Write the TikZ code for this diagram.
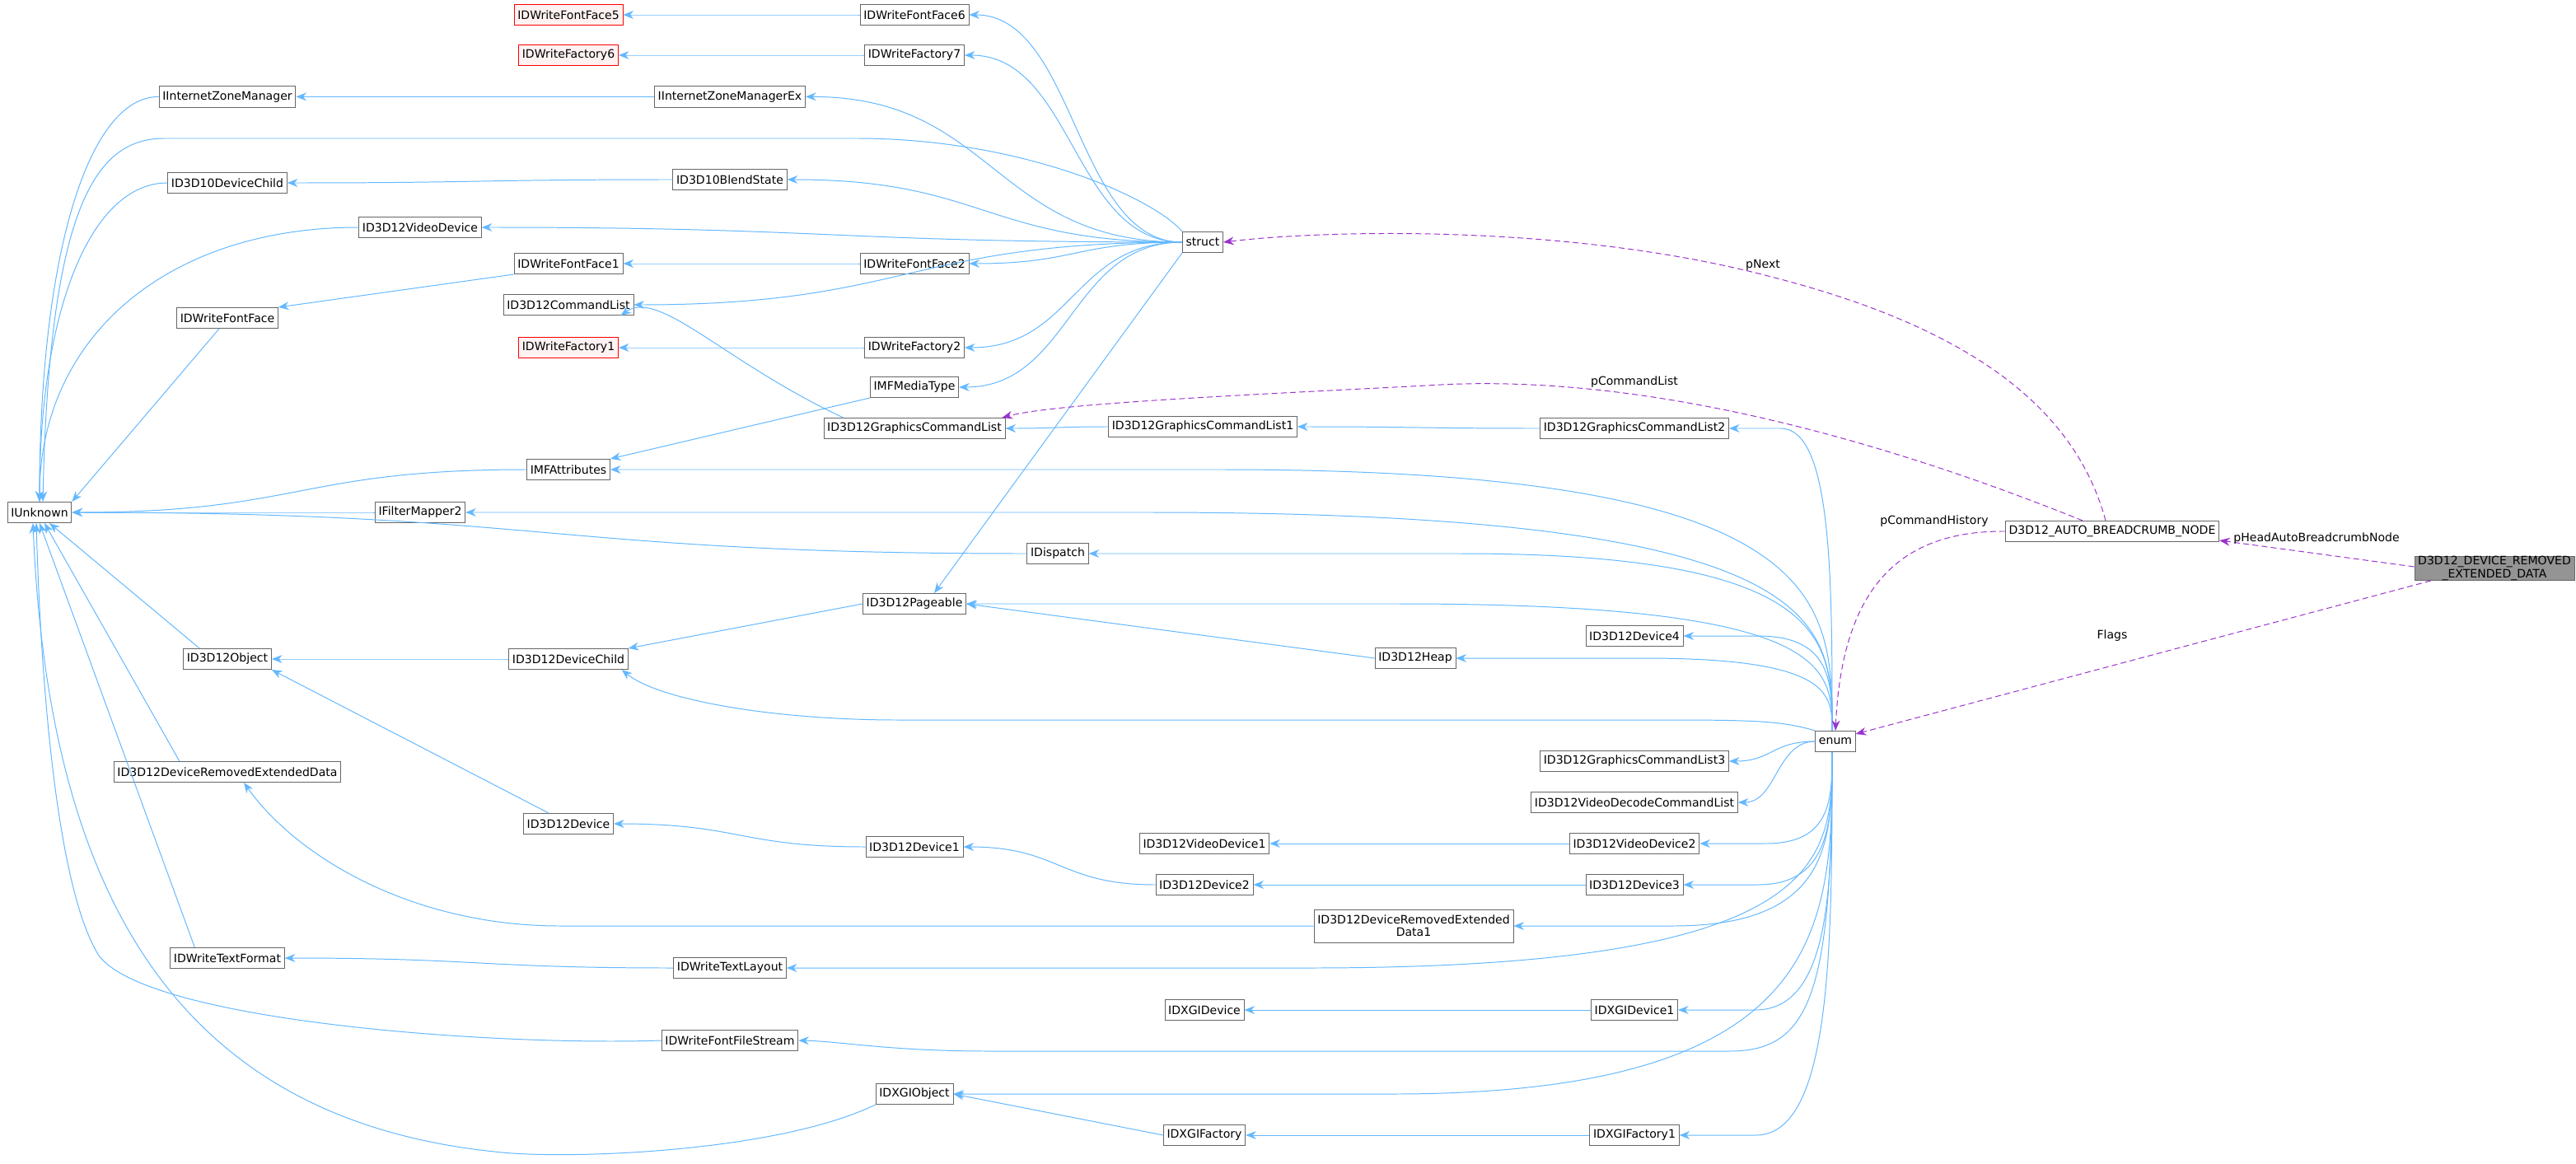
\documentclass[tikz,border=0pt]{standalone}
\usepackage{fontspec}
\setmainfont{DejaVu Sans}
\usetikzlibrary{arrows.meta,calc}
\definecolor{eb}{HTML}{63B8FF}
\definecolor{ep}{HTML}{9A32CD}
\newcommand\hedge[3]{\coordinate (mm) at ($(#2)!0.5!(#3)$);\draw[#1] (#2) .. controls (mm |- #2) and (mm |- #3) .. (#3);}
\newcommand\vedge[3]{\coordinate (mm) at ($(#2)!0.5!(#3)$);\draw[#1] (#2) .. controls (#2 |- mm) and (#2 |- #3) .. (mm |- #3) -- (#3);}
\newcommand\uedge[3]{\draw[#1] (#2) .. controls ($(#2)!0.6!(#3 |- #2)$) and ($(#3)!0.6!(#3 |- #2)$) .. (#3);}
\begin{document}
\begin{tikzpicture}[x=0.05cm,y=-0.05cm,
 n/.style={draw=black!60,fill=white,font=\fontsize{10}{12}\selectfont,inner xsep=3pt,inner ysep=0pt,minimum height=0.63cm,line width=0.6pt},
 r/.style={n,draw=red,fill=red!5},
 g/.style={n,fill=black!42,align=center,font=\fontsize{10}{11}\selectfont},
 ml/.style={n,align=center,font=\fontsize{10}{11}\selectfont},
 inh/.style={draw=eb,line width=0.7pt,-{Stealth[length=9pt,width=7pt]}},
 use/.style={draw=ep,line width=0.7pt,dash pattern=on 5pt off 3pt,-{Stealth[length=9pt,width=7pt]}},
 lb/.style={font=\fontsize{10}{12}\selectfont}]
\useasboundingbox[fill=white] (0,0) rectangle (1563.5,706.5);
\node[r] (ff5) at (345,9) {IDWriteFontFace5};
\node[n] (ff6) at (555,9) {IDWriteFontFace6};
\node[r] (fa6) at (345,33.5) {IDWriteFactory6};
\node[n] (fa7) at (555,33.5) {IDWriteFactory7};
\node[n] (izm) at (138,58.7) {IInternetZoneManager};
\node[n] (izmx) at (443,58.7) {IInternetZoneManagerEx};
\node[n] (d10c) at (138,111) {ID3D10DeviceChild};
\node[n] (d10b) at (443,109) {ID3D10BlendState};
\node[n] (vd) at (255,138) {ID3D12VideoDevice};
\node[n] (struct) at (730,147) {struct};
\node[n] (ff1) at (345,160) {IDWriteFontFace1};
\node[n] (ff2) at (555,160) {IDWriteFontFace2};
\node[n] (ff) at (138,193) {IDWriteFontFace};
\node[n] (cl) at (345,185) {ID3D12CommandList};
\node[r] (fa1) at (345,211) {IDWriteFactory1};
\node[n] (fa2) at (555,211) {IDWriteFactory2};
\node[n] (mft) at (555,235) {IMFMediaType};
\node[n] (gcl) at (555,260) {ID3D12GraphicsCommandList};
\node[n] (gcl1) at (730,259) {ID3D12GraphicsCommandList1};
\node[n] (gcl2) at (992,260) {ID3D12GraphicsCommandList2};
\node[n] (mfa) at (345,285) {IMFAttributes};
\node[n] (iu) at (24,311) {IUnknown};
\node[n] (fm2) at (255,311) {IFilterMapper2};
\node[n] (abn) at (1282,322.5) {D3D12\_AUTO\_BREADCRUMB\_NODE};
\node[g] (dred) at (1514,345) {D3D12\_DEVICE\_REMOVED\\\_EXTENDED\_DATA};
\node[n] (disp) at (642,336) {IDispatch};
\node[n] (pg) at (555,366.5) {ID3D12Pageable};
\node[n] (obj) at (138,400) {ID3D12Object};
\node[n] (dc) at (345,400) {ID3D12DeviceChild};
\node[n] (d4) at (992,386) {ID3D12Device4};
\node[n] (heap) at (859,399.5) {ID3D12Heap};
\node[n] (enum) at (1114,450) {enum};
\node[n] (dre) at (138,468.5) {ID3D12DeviceRemovedExtendedData};
\node[n] (gcl3) at (992,462) {ID3D12GraphicsCommandList3};
\node[n] (vdcl) at (992,487) {ID3D12VideoDecodeCommandList};
\node[n] (dev) at (345,500) {ID3D12Device};
\node[n] (vd1) at (731,512) {ID3D12VideoDevice1};
\node[n] (vd2) at (992,512) {ID3D12VideoDevice2};
\node[n] (d1) at (555,514) {ID3D12Device1};
\node[n] (d2) at (731,537) {ID3D12Device2};
\node[n] (d3) at (992,537) {ID3D12Device3};
\node[ml,minimum height=1.0cm] (dre1) at (858,562) {ID3D12DeviceRemovedExtended\\Data1};
\node[n] (tf) at (138,581.5) {IDWriteTextFormat};
\node[n] (tl) at (443,587.5) {IDWriteTextLayout};
\node[n] (dxd) at (731,613) {IDXGIDevice};
\node[n] (dxd1) at (992,613) {IDXGIDevice1};
\node[n] (ffs) at (443,631.5) {IDWriteFontFileStream};
\node[n] (dxo) at (555,664) {IDXGIObject};
\node[n] (dxf) at (731,689) {IDXGIFactory};
\node[n] (dxf1) at (992,689) {IDXGIFactory1};
% inheritance, straight chains
\foreach \a/\b in {ff6/ff5,fa7/fa6,izmx/izm,d10b/d10c,ff2/ff1,fa2/fa1,gcl1/gcl,gcl2/gcl1,dc/obj,d1/dev,d2/d1,d3/d2,vd2/vd1,tl/tf,dxd1/dxd,dxf1/dxf}
  {\hedge{inh}{\a.west}{\b.east}}
\draw[inh] (ff1.south west) -- (ff.north east);
\draw[inh] (mft.south west) -- (mfa.north east);
\draw[inh] (pg.west) -- (dc.north east);
\draw[inh] (heap.west) -- (pg.east);
\draw[inh] ($(dev.north)+(-12,0)$) -- (obj.south east);
\draw[inh] (dxf.west) -- (dxo.east);
\draw[inh] ($(gcl.north west)+(12,0)$) .. controls (440,220) and (400,175) .. ($(cl.south east)+(-8,0)$);
\draw[inh] (dre1.west) -- (340,562) .. controls (250,562) and (180,520) .. ($(dre.south)+(10,0)$);
% to IUnknown
\foreach \a in {izm,d10c,vd}
  {\uedge{inh}{\a.west}{iu.north}}
\foreach \a in {mfa,fm2,disp}
  {\hedge{inh}{\a.west}{iu.east}}
\draw[inh] ($(ff.south)+(-5,0)$) -- (iu.north east);
\draw[inh] ($(obj.north west)+(10,0)$) -- ($(iu.south)+(6,0)$);
\draw[inh] ($(dre.north west)+(40,0)$) -- ($(iu.south)+(3,0)$);
\draw[inh] ($(tf.north west)+(15,0)$) -- (iu.south);
\draw[inh] (ffs.west) .. controls (300,635) and (90,620) .. (60,580) .. controls (35,540) and (25,420) .. ($(iu.south)+(-2,0)$);
\draw[inh] (dxo.south west) .. controls (470,700) and (340,704) .. (300,699) .. controls (120,680) and (30,560) .. ($(iu.south)+(-4,0)$);
% struct
\foreach \b in {ff6,fa7,izmx,d10b,vd,ff2,cl,fa2,mft}
  {\hedge{inh}{struct.west}{\b.east}}
\draw[inh] (struct.south west) -- ($(pg.north)+(12,0)$);
\draw[inh] (struct.north west) .. controls (700,120) and (620,84) .. (520,84) -- (100,84) .. controls (60,84) and (30,120) .. ($(iu.north)+(2,0)$);
% enum
\coordinate (eu) at ($(enum.north)+(-2,0)$);
\coordinate (ed) at ($(enum.south)+(-2,0)$);
\foreach \b in {gcl2,mfa,fm2,disp,pg,d4,heap}
  {\vedge{inh}{eu}{\b.east}}
\draw[inh] (enum.north west) .. controls (1080,437) and (1060,437) .. (1000,437) -- (545,437) .. controls (470,437) and (400,425) .. ($(dc.south east)+(-4,0)$);
\foreach \b in {gcl3,vdcl}
  {\hedge{inh}{enum.west}{\b.east}}
\foreach \b in {vd2,d3,dre1,tl,dxd1,dxo,dxf1}
  {\vedge{inh}{ed}{\b.east}}
\draw[inh] (ed) .. controls (1112,600) and (1100,638) .. (1050,638) -- (600,638) .. controls (540,638) and (510,632) .. (ffs.east);
% usage
\draw[use] ($(abn.north)+(-4,0)$) .. controls (1260,250) and (1200,200) .. (1075,168) .. controls (950,135) and (800,140) .. (struct.east);
\node[lb] at (1070,161) {pNext};
\draw[use] ($(abn.north)+(-18,0)$) .. controls (1150,270) and (1000,225) .. (866,234) .. controls (750,240) and (640,245) .. ($(gcl.north east)+(-2,0)$);
\node[lb] at (992,232) {pCommandList};
\draw[use] (abn.west) .. controls (1150,322) and (1118,360) .. (enum.north);
\node[lb] at (1174,316.5) {pCommandHistory};
\draw[use] ($(dred.west)+(0,-1)$) -- ($(abn.south east)+(0,-1)$);
\node[lb] at (1406,326.6) {pHeadAutoBreadcrumbNode};
\draw[use] ($(dred.south west)+(10,0)$) -- ($(enum.north east)+(0,2)$);
\node[lb] at (1282,386) {Flags};
\end{tikzpicture}
\end{document}
